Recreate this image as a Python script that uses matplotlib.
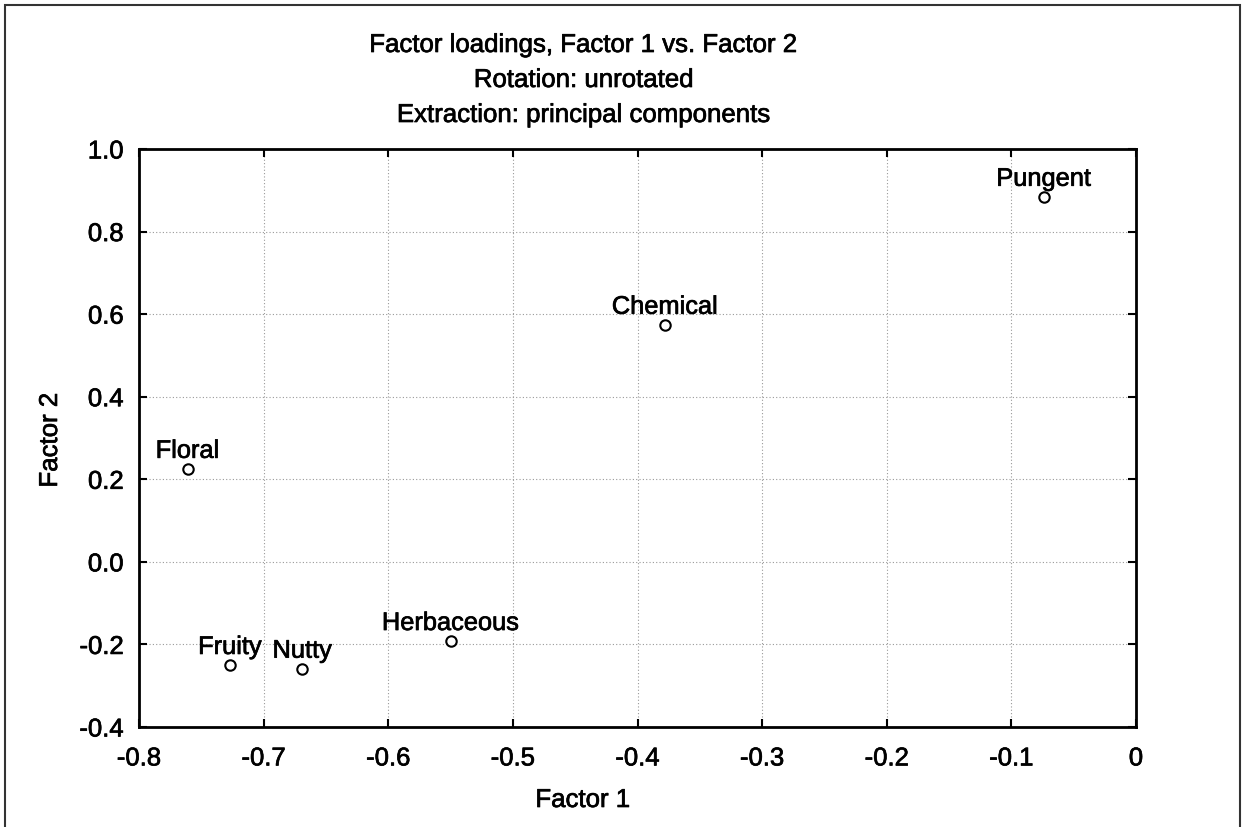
import matplotlib.pyplot as plt
import matplotlib.patheffects as pe
from matplotlib.patches import Rectangle

plt.rcParams['font.family'] = ['Liberation Sans', 'DejaVu Sans']

# factor loadings
names = ["Pungent", "Chemical", "Floral", "Fruity", "Nutty", "Herbaceous"]
factor1 = [-0.074, -0.378, -0.761, -0.727, -0.669, -0.550]
factor2 = [0.884, 0.574, 0.225, -0.250, -0.259, -0.192]

xticks = [-0.8, -0.7, -0.6, -0.5, -0.4, -0.3, -0.2, -0.1, 0.0]
xticklabels = ["-0.8", "-0.7", "-0.6", "-0.5", "-0.4", "-0.3", "-0.2", "-0.1", "0"]
yticks = [-0.4, -0.2, 0.0, 0.2, 0.4, 0.6, 0.8, 1.0]

# slightly heavier strokes, like the scanned original
thick = [pe.withStroke(linewidth=0.5, foreground="black")]

W, H = 1249, 827
fig = plt.figure(figsize=(W / 100, H / 100), dpi=100)
ax = fig.add_axes([139 / W, 1 - 727 / H, (1136 - 139) / W, (727 - 149) / H])

ax.plot(factor1, factor2, linestyle="none", marker="o", markersize=7.5,
        markerfacecolor="white", markeredgecolor="black", markeredgewidth=1.5, zorder=3)
for n, x, y in zip(names, factor1, factor2):
    ax.annotate(n, (x, y), xytext=(0, 8), textcoords="offset points",
                ha="center", va="baseline", fontsize=18.3, path_effects=thick)

ax.set_xlim(-0.8, 0.0)
ax.set_ylim(-0.4, 1.0)
ax.set_xticks(xticks)
ax.set_xticklabels(xticklabels)
ax.set_yticks(yticks)
ax.set_yticklabels([f"{v:.1f}" for v in yticks])
ax.tick_params(direction="in", length=6, width=1.5, labelsize=18.5,
               top=True, right=True, pad=14)
ax.tick_params(axis="y", pad=11)
for lab in ax.get_xticklabels() + ax.get_yticklabels():
    lab.set_path_effects(thick)
ax.grid(True, color="#999999", linestyle=(0, (1, 2)), linewidth=0.8)
for s in ax.spines.values():
    s.set_linewidth(2)

for yy, txt in [(45, "Factor loadings, Factor 1 vs. Factor 2"),
                (80, "Rotation: unrotated"),
                (115, "Extraction: principal components")]:
    fig.text(584 / W, 1 - yy / H, txt, ha="center", va="center",
             fontsize=18.6, path_effects=thick)
fig.text(583 / W, 1 - 800 / H, "Factor 1", ha="center", va="center",
         fontsize=18.6, path_effects=thick)
fig.text(50 / W, 1 - 440 / H, "Factor 2", ha="center", va="center",
         rotation=90, fontsize=18.6, path_effects=thick)

# outer frame around the whole chart
fig.patches.append(Rectangle((5 / W, -0.02), (1240 - 5) / W, 1.02 - 5 / H,
                             transform=fig.transFigure, fill=False,
                             edgecolor="#333333", linewidth=1.5))

fig.savefig("out.png", dpi=100)
